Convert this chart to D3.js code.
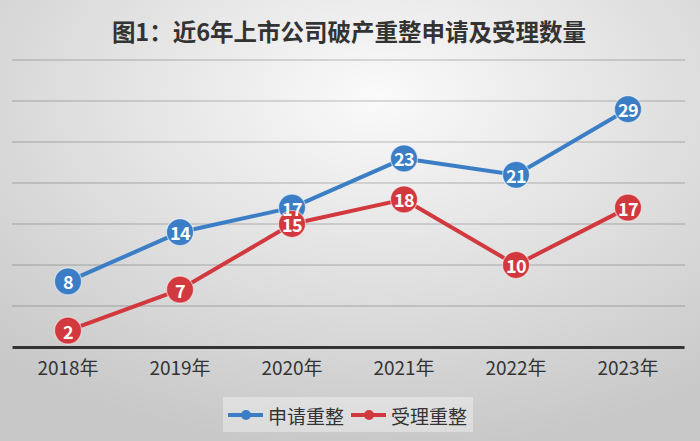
<!DOCTYPE html>
<html><head><meta charset="utf-8">
<script src="https://cdn.jsdelivr.net/npm/d3@7"></script>
<style>
html,body{margin:0;padding:0;background:#ddd;}
svg{display:block;}
text{font-family:"Noto Sans CJK SC","Noto Sans",sans-serif;}
</style></head>
<body>
<svg id="chart" width="700" height="441"></svg>
<script>
const title = "图1：近6年上市公司破产重整申请及受理数量";
const years = ["2018年","2019年","2020年","2021年","2022年","2023年"];
const applyValues = [8, 14, 17, 23, 21, 29];
const acceptValues = [2, 7, 15, 18, 10, 17];
const seriesNames = ["申请重整","受理重整"];
const gridTicks = [5, 10, 15, 20, 25, 30, 35];

const colors = ["#3b7ec6", "#d2393e"];
const W = 700, H = 441;
const svg = d3.select("#chart");
const defs = svg.append("defs");
const grad = defs.append("radialGradient").attr("id","bg")
  .attr("cx",0.54).attr("cy",0.22).attr("r",0.8);
grad.append("stop").attr("offset","0").attr("stop-color","#fafafa");
grad.append("stop").attr("offset","1").attr("stop-color","#c8c8c8");
svg.append("rect").attr("width",W).attr("height",H).attr("fill","url(#bg)");

svg.append("text").attr("x",349).attr("y",31).attr("text-anchor","middle")
  .attr("dominant-baseline","central").attr("font-size",23.5).attr("font-weight","bold")
  .attr("fill","#333").text(title);

const x = d3.scaleBand().domain(years).range([12, 684]).padding(0);
const y = d3.scaleLinear().domain([0, 35]).range([347, 60]);
const cx = d => x(d) + x.bandwidth()/2;

// gridlines
svg.append("g").selectAll("line").data(gridTicks).join("line")
  .attr("x1",12).attr("x2",685).attr("y1",d=>y(d)).attr("y2",d=>y(d))
  .attr("stroke","rgba(0,0,0,0.17)").attr("stroke-width",1.5);

// x axis
const xAxis = svg.append("g").attr("transform",`translate(0,${y(0)})`)
  .call(d3.axisBottom(x).tickSize(0).tickPadding(17));
xAxis.select(".domain").attr("stroke","#333").attr("stroke-width",3);
xAxis.selectAll("text").attr("font-size",19).attr("fill","#333")
  .attr("font-family",'"Noto Sans CJK SC",sans-serif').attr("dy","0.6em");

const series = [applyValues, acceptValues];
const line = d3.line().x((d,i)=>cx(years[i])).y(d=>y(d));
const gLines = svg.append("g");
const gDots = svg.append("g");
const gLabels = svg.append("g");
series.forEach((vals, si) => {
  gLines.append("path").datum(vals).attr("d",line).attr("fill","none")
    .attr("stroke",colors[si]).attr("stroke-width",4).attr("stroke-linejoin","round");
  gDots.append("g").selectAll("circle").data(vals).join("circle")
    .attr("cx",(d,i)=>cx(years[i])).attr("cy",d=>y(d)).attr("r",13.5)
    .attr("fill",colors[si]).attr("stroke","rgba(255,255,255,0.55)").attr("stroke-width",1.2);
  gLabels.append("g").selectAll("text").data(vals).join("text")
    .attr("x",(d,i)=>cx(years[i])).attr("y",d=>y(d)).attr("text-anchor","middle")
    .attr("dominant-baseline","central").attr("font-size",18).attr("font-weight","bold")
    .attr("fill","#fff").attr("letter-spacing",-0.5)
    .attr("font-family",'"Noto Sans","DejaVu Sans",sans-serif').text(d=>d);
});

// legend
const lg = svg.append("g");
lg.append("rect").attr("x",223).attr("y",397).attr("width",250).attr("height",35)
  .attr("fill","rgba(255,255,255,0.35)");
const legendPos = [228, 351];
seriesNames.forEach((name, i) => {
  const lx = legendPos[i];
  lg.append("line").attr("x1",lx).attr("x2",lx+35).attr("y1",415).attr("y2",415)
    .attr("stroke",colors[i]).attr("stroke-width",4);
  lg.append("circle").attr("cx",lx+18).attr("cy",415).attr("r",5).attr("fill",colors[i]);
  lg.append("text").attr("x",lx+40).attr("y",415).attr("dominant-baseline","central")
    .attr("font-size",19).attr("fill","#333").text(name);
});
</script>
</body></html>
